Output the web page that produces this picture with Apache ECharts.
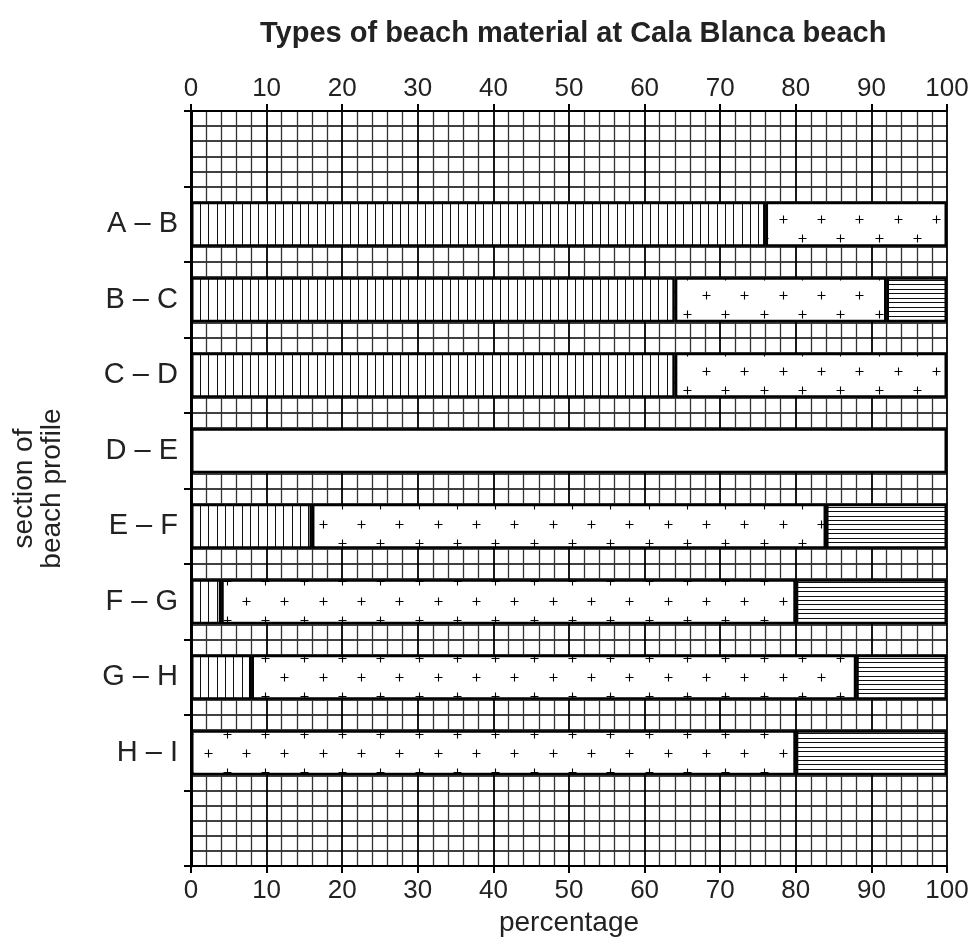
<!DOCTYPE html>
<html>
<head>
<meta charset="utf-8">
<script src="https://cdn.jsdelivr.net/npm/echarts@6/dist/echarts.min.js"></script>
<style>
    html, body { margin: 0; padding: 0; background: #fff; }
    #chart { width: 978px; height: 945px; }
</style>
</head>
<body>
<div id="chart"></div>
<script>
    // data (percentages per section)
    var sections = ['A – B', 'B – C', 'C – D', 'D – E', 'E – F', 'F – G', 'G – H', 'H – I'];
    var verticalLined = [76, 64, 64, 0, 16, 4, 8, 0];
    var crossed = [24, 28, 36, 0, 68, 76, 80, 80];
    var horizontalLined = [0, 8, 0, 0, 16, 20, 12, 20];
    var plain = [0, 0, 0, 100, 0, 0, 0, 0];

    // empty bands above and below the sections
    var rows = ['top'].concat(sections, ['bottom']);
    function pad(arr) {
        var out = [null];
        arr.forEach(function (v) { out.push(v ? v : null); });
        out.push(null);
        return out;
    }

    // hatch patterns
    function tile(w, h) {
        var c = document.createElement('canvas');
        c.width = w; c.height = h;
        var ctx = c.getContext('2d');
        ctx.fillStyle = '#fff';
        ctx.fillRect(0, 0, w, h);
        ctx.strokeStyle = '#111';
        ctx.lineWidth = 1;
        return {c: c, ctx: ctx};
    }
    function verticalPattern() {
        var t = tile(25, 10);
        for (var i = 0; i < 3; i++) {
            var x = Math.round(i * 25 / 3) + 0.5;
            t.ctx.beginPath(); t.ctx.moveTo(x, 0); t.ctx.lineTo(x, 10); t.ctx.stroke();
        }
        return t.c;
    }
    function horizontalPattern() {
        var t = tile(10, 40);
        for (var i = 0; i < 9; i++) {
            var y = Math.round(i * 40 / 9) + 0.5;
            t.ctx.beginPath(); t.ctx.moveTo(0, y); t.ctx.lineTo(10, y); t.ctx.stroke();
        }
        return t.c;
    }
    function crossPattern() {
        var W = 115, H = 191;
        var t = tile(W, H);
        var ctx = t.ctx;
        ctx.strokeStyle = '#000';
        ctx.lineWidth = 1.1;
        function plus(x, y) {
            x = Math.round(x) + 0.5; y = Math.round(y) + 0.5;
            ctx.beginPath();
            ctx.moveTo(x - 4, y); ctx.lineTo(x + 4, y);
            ctx.moveTo(x, y - 4); ctx.lineTo(x, y + 4);
            ctx.stroke();
        }
        for (var j = 0; j < 10; j++) {
            var y = (505 + 19.1 * j) % H;
            var shift = (j % 2 === 0) ? 0 : -19.167;
            for (var m = 0; m < 3; m++) {
                var x = ((342 + shift + 38.333 * m) % W + W) % W;
                [-W, 0, W].forEach(function (dx) {
                    [-H, 0, H].forEach(function (dy) { plus(x + dx, y + dy); });
                });
            }
        }
        return t.c;
    }

    var dom = document.getElementById('chart');
    var myChart = echarts.init(dom);
    var textColor = '#222';
    var font = 'Liberation Sans';

    function seriesOf(name, values, fill) {
        return {
            name: name,
            type: 'bar',
            stack: 'total',
            xAxisIndex: 0,
            yAxisIndex: 0,
            barWidth: 45,
            data: pad(values),
            itemStyle: {
                color: fill,
                borderColor: '#000',
                borderWidth: 2.5
            },
            emphasis: { disabled: true },
            animation: false
        };
    }

    var option = {
        animation: false,
        title: {
            text: 'Types of beach material at Cala Blanca beach',
            left: 255,
            top: 14,
            textStyle: { fontFamily: font, fontSize: 29, fontWeight: 'bold', color: textColor }
        },
        grid: {
            left: 191,
            right: 31,
            top: 111,
            bottom: 79,
            outerBoundsMode: 'none'
        },
        xAxis: [
            {
                type: 'value',
                position: 'bottom',
                min: 0,
                max: 100,
                interval: 10,
                name: 'percentage',
                nameLocation: 'middle',
                nameGap: 43,
                nameTextStyle: { fontFamily: font, fontSize: 28, color: textColor },
                axisLine: { show: true, lineStyle: { color: '#000', width: 2 } },
                axisTick: { show: true, length: 7, lineStyle: { color: '#000', width: 2 } },
                axisLabel: { margin: 12, fontFamily: font, fontSize: 26, color: textColor },
                splitLine: { show: true, lineStyle: { color: '#000', width: 1.8 } },
                minorTick: { show: false, splitNumber: 5 },
                minorSplitLine: { show: true, lineStyle: { color: '#333', width: 1.3 } }
            },
            {
                type: 'value',
                position: 'top',
                min: 0,
                max: 100,
                interval: 10,
                axisLine: { show: true, lineStyle: { color: '#000', width: 2 } },
                axisTick: { show: true, length: 7, lineStyle: { color: '#000', width: 2 } },
                axisLabel: { margin: 9, fontFamily: font, fontSize: 26, color: textColor },
                splitLine: { show: false }
            }
        ],
        yAxis: [
            {
                type: 'category',
                data: rows,
                inverse: true,
                name: 'section of\nbeach profile',
                nameLocation: 'middle',
                nameGap: 125,
                nameTextStyle: { fontFamily: font, fontSize: 28, lineHeight: 28, color: textColor },
                axisLine: { show: true, lineStyle: { color: '#000', width: 3 } },
                axisTick: { show: true, length: 7, lineStyle: { color: '#000', width: 2 } },
                axisLabel: {
                    margin: 13,
                    fontFamily: font,
                    fontSize: 29,
                    color: textColor,
                    formatter: function (v) { return sections.indexOf(v) >= 0 ? v : ''; }
                },
                splitLine: { show: false }
            },
            {
                // only used for the fine horizontal grid lines
                type: 'value',
                position: 'right',
                min: 0,
                max: 50,
                interval: 1,
                axisLine: { show: true, lineStyle: { color: '#000', width: 2 } },
                axisTick: { show: false },
                axisLabel: { show: false },
                splitLine: { show: true, lineStyle: { color: '#000', width: 1.6 } }
            }
        ],
        series: [
            seriesOf('vertical lines', verticalLined, { image: verticalPattern(), repeat: 'repeat' }),
            seriesOf('crosses', crossed, { image: crossPattern(), repeat: 'repeat' }),
            seriesOf('horizontal lines', horizontalLined, { image: horizontalPattern(), repeat: 'repeat' }),
            seriesOf('blank', plain, '#fff')
        ]
    };

    if (option && typeof option === "object") {
        myChart.setOption(option, true);
    }
</script>
</body>
</html>
